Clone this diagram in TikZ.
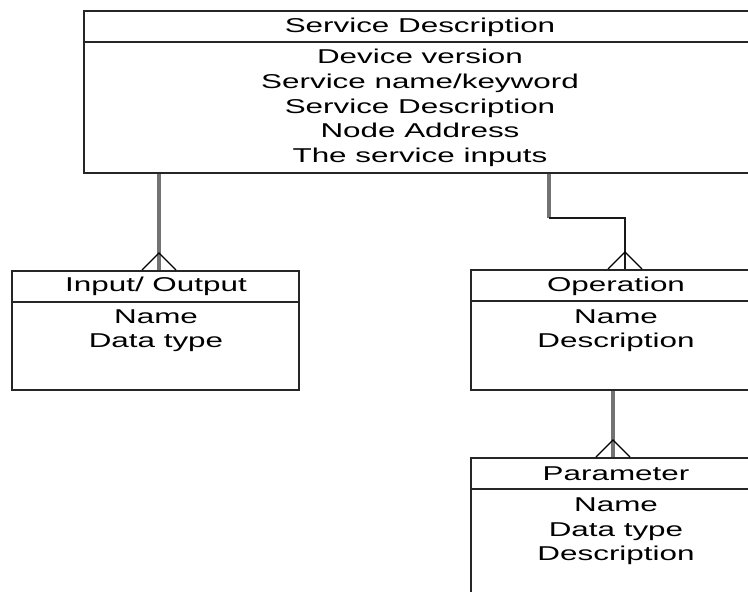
\documentclass[tikz,border=0pt]{standalone}
\usepackage{fontspec}
\setmainfont{Liberation Sans}[FakeStretch=1.57]
\begin{document}
\begin{tikzpicture}[x=1pt,y=-1pt,
  box/.style={draw=black!85, line width=2pt, inner sep=0pt, anchor=north west},
  sep/.style={draw=black!85, line width=2pt},
  txt/.style={font=\fontsize{20}{24}\selectfont, inner sep=0pt, anchor=base, text=black},
  link/.style={draw=black!55, line width=3.2pt},
  thinlink/.style={draw=black!90, line width=1.6pt},
  foot/.style={draw=black, line width=1.4pt, line join=miter},
  crowfoot/.pic={\draw[foot] (-17,0) -- (0,-17) -- (17,0);}]
\useasboundingbox (0,0) rectangle (748,592);
\clip (0,0) rectangle (748,592);
\fill[white] (0,0) rectangle (748,592);

% entity boxes (the right-hand ones run past the page edge)
\node[box, minimum width=674pt, minimum height=162pt] (svc) at (83,10) {};
\node[box, minimum width=287pt, minimum height=119pt] (io) at (11,270) {};
\node[box, minimum width=291pt, minimum height=120pt] (op) at (470,269) {};
\node[box, minimum width=292pt, minimum height=180pt] (par) at (470,457) {};

% header separators
\draw[sep] (svc.west |- 0,42) -- (svc.east |- 0,42);
\draw[sep] (io.west |- 0,302) -- (io.east |- 0,302);
\draw[sep] (op.west |- 0,301) -- (op.east |- 0,301);
\draw[sep] (par.west |- 0,489) -- (par.east |- 0,489);

% Service Description
\node[txt] (svc-h) at (420,32) {Service Description};
\node[txt] (svc-1) at (420,63) {Device version};
\node[txt] (svc-2) at (420,88) {Service name/keyword};
\node[txt] (svc-3) at (420,113) {Service Description};
\node[txt] (svc-4) at (420,137) {Node Address};
\node[txt] (svc-5) at (420,162) {The service inputs};

% Input/ Output
\node[txt] (io-h) at (156,291) {Input/ Output};
\node[txt] (io-1) at (156,323) {Name};
\node[txt] (io-2) at (156,347) {Data type};

% Operation
\node[txt] (op-h) at (616,291) {Operation};
\node[txt] (op-1) at (616,323) {Name};
\node[txt] (op-2) at (616,347) {Description};

% Parameter
\node[txt] (par-h) at (616,480) {Parameter};
\node[txt] (par-1) at (616,511) {Name};
\node[txt] (par-2) at (616,536) {Data type};
\node[txt] (par-3) at (616,560) {Description};

% connector routing points
\coordinate (l1) at (159,0);
\coordinate (r1) at (549,218);
\coordinate (r2) at (625,218);
\coordinate (p1) at (613,0);

% Service Description -> Input/ Output
\draw[link] (svc.south -| l1) -- (io.north -| l1);
\pic at (io.north -| l1) {crowfoot};

% Service Description -> Operation
\draw[link] (svc.south -| r1) -- (r1);
\draw[thinlink] (r1) -- (r2) -- (op.north -| r2);
\pic at (op.north -| r2) {crowfoot};

% Operation -> Parameter
\draw[link] (op.south -| p1) -- (par.north -| p1);
\pic at (par.north -| p1) {crowfoot};
\end{tikzpicture}
\end{document}
